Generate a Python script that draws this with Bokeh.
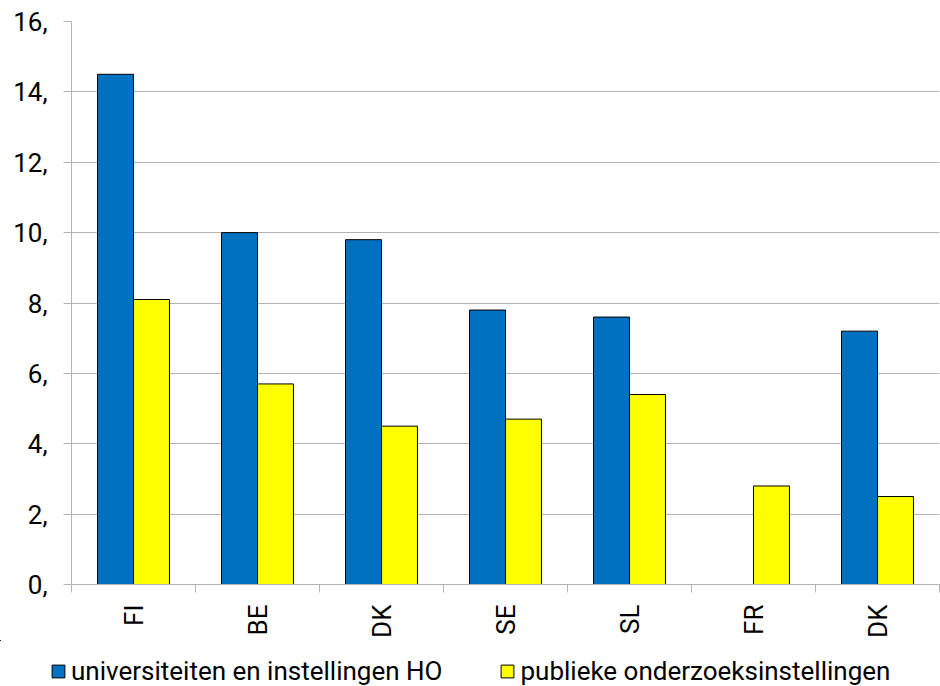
import math
from bokeh.plotting import figure
from bokeh.layouts import column
from bokeh.models import ColumnDataSource, FixedTicker, Legend, LegendItem, Range1d
from bokeh.transform import dodge
from bokeh.embed import file_html
from bokeh.resources import INLINE

categories = ["FI", "BE", "DK", "SE", "SL", "FR", "DK"]
universiteiten = [14.5, 10.0, 9.8, 7.8, 7.6, float("nan"), 7.2]
publieke = [8.1, 5.7, 4.5, 4.7, 5.4, 2.8, 2.5]
y_ticks = [0, 2, 4, 6, 8, 10, 12, 14, 16]
y_labels = ["0,", "2,", "4,", "6,", "8,", "10,", "12,", "14,", "16,"]
series_names = ["universiteiten en instellingen HO", "publieke onderzoeksinstellingen"]

FONT = "Roboto"
BLUE = "#0070C0"
YELLOW = "#FFFF00"
GRID = "#b3b3b3"

pos = [i + 0.5 for i in range(len(categories))]
src = ColumnDataSource(dict(x=pos, uni=universiteiten, pub=publieke))

p = figure(width=940, height=640, output_backend="svg", toolbar_location=None,
           x_range=Range1d(0, len(categories)), y_range=Range1d(0, 16),
           min_border_left=71, min_border_right=1, min_border_top=21, min_border_bottom=56)
p.outline_line_color = None
p.background_fill_color = "white"
p.border_fill_color = "white"

r1 = p.vbar(x=dodge("x", -0.145, range=p.x_range), top="uni", width=0.29, source=src,
            fill_color=BLUE, line_color="black", line_width=1)
r2 = p.vbar(x=dodge("x", 0.145, range=p.x_range), top="pub", width=0.29, source=src,
            fill_color=YELLOW, line_color="black", line_width=1)

# x axis
p.xaxis.ticker = FixedTicker(ticks=pos, minor_ticks=list(range(len(categories) + 1)))
p.xaxis.major_label_overrides = {float(v): c for v, c in zip(pos, categories)}
p.xaxis.major_label_orientation = math.pi / 2
p.xaxis.major_tick_out = 0
p.xaxis.major_tick_in = 0
p.xaxis.minor_tick_out = 8
p.xaxis.minor_tick_in = 0
p.xaxis.minor_tick_line_color = GRID
p.xaxis.axis_line_color = GRID
p.xaxis.major_label_standoff = 12
p.xaxis.major_label_text_font = FONT
p.xaxis.major_label_text_font_size = "26px"
p.xaxis.major_label_text_color = "black"
p.xgrid.grid_line_color = None

# y axis
p.yaxis.ticker = FixedTicker(ticks=y_ticks, minor_ticks=[])
p.yaxis.major_label_overrides = {t: l for t, l in zip(y_ticks, y_labels)}
p.yaxis.major_tick_out = 8
p.yaxis.major_tick_in = 0
p.yaxis.major_tick_line_color = GRID
p.yaxis.axis_line_color = GRID
p.yaxis.major_label_standoff = 16
p.yaxis.major_label_text_font = FONT
p.yaxis.major_label_text_font_size = "26px"
p.yaxis.major_label_text_color = "black"
p.ygrid.grid_line_color = GRID
p.ygrid.ticker = FixedTicker(ticks=y_ticks)

# legend strip underneath (its bars lie outside its visible range)
lg = figure(width=940, height=46, output_backend="svg", toolbar_location=None,
            x_axis_location=None, y_axis_location=None,
            x_range=Range1d(1000, 1007), y_range=Range1d(-200, -100),
            min_border_left=0, min_border_right=0, min_border_top=0, min_border_bottom=0)
lg.grid.visible = False
lg.outline_line_color = None
lg.border_fill_color = "white"
l1 = lg.vbar(x="x", top="uni", width=0.29, source=src,
             fill_color=BLUE, line_color="black", line_width=1)
l2 = lg.vbar(x="x", top="pub", width=0.29, source=src,
             fill_color=YELLOW, line_color="black", line_width=1)

legend_x = 50
try:
    p.frame_align = False
    lg.frame_align = False
except Exception:
    legend_x = 0

legend = Legend(items=[LegendItem(label=series_names[0], renderers=[l1]),
                       LegendItem(label=series_names[1], renderers=[l2])],
                orientation="horizontal", location=(legend_x, 0),
                label_text_font=FONT, label_text_font_size="26px", label_text_color="black",
                glyph_width=16, glyph_height=16, label_standoff=5, spacing=57,
                border_line_color=None, background_fill_alpha=0, padding=0, margin=0)
lg.add_layout(legend, "center")

layout = column(p, lg, spacing=0)
open("out.html", "w").write(file_html(layout, INLINE))
